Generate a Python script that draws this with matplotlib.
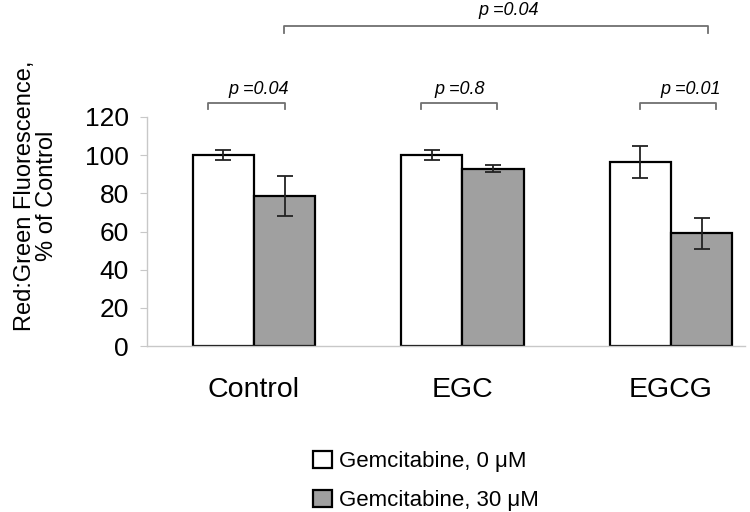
import matplotlib
matplotlib.use("Agg")
import matplotlib.pyplot as plt
import numpy as np

plt.rcParams['font.family'] = ['Liberation Sans', 'DejaVu Sans']

categories = ['Control', 'EGC', 'EGCG']
series_labels = ['Gemcitabine, 0 \u03bcM', 'Gemcitabine, 30 \u03bcM']
gem0 = [100, 100, 96.5]
gem0_err = [2.5, 2.5, 8.5]
gem30 = [78.5, 93, 59]
gem30_err = [10.5, 2, 8]
yticks = [0, 20, 40, 60, 80, 100, 120]

# significance brackets: (x_left, x_right, y_level, text, text_x)
brackets_small = [(-0.22, 0.15, 127.4, 'p =0.04', 0.025),
                  (0.80, 1.165, 127.4, 'p =0.8', 0.988),
                  (1.85, 2.215, 127.4, 'p =0.01', 2.094)]
bracket_top = (0.144, 2.177, 167.7, 'p =0.04', 1.22)

fig = plt.figure(figsize=(7.5, 5.12), dpi=100)
ax = fig.add_axes([147/750, 1-346/512, (745-147)/750, (346-117)/512])

x = np.arange(len(categories))
w = 0.293
ax.bar(x - w/2, gem0, w, color='white', edgecolor='black', linewidth=1.6,
       label=series_labels[0], zorder=2)
ax.bar(x + w/2, gem30, w, color='#a0a0a0', edgecolor='black', linewidth=1.6,
       label=series_labels[1], zorder=2)
ax.errorbar(x - w/2, gem0, yerr=gem0_err, fmt='none', ecolor='#222222',
            elinewidth=1.3, capsize=6, capthick=1.3, zorder=3)
ax.errorbar(x + w/2, gem30, yerr=gem30_err, fmt='none', ecolor='#222222',
            elinewidth=1.3, capsize=6, capthick=1.3, zorder=3)

ax.set_xlim(-0.513, 2.355)
ax.set_ylim(0, 120)
ax.set_yticks(yticks)
ax.set_xticks(x)
ax.set_xticklabels(categories, fontsize=20.5)
ax.tick_params(axis='x', length=0, pad=22)
ax.tick_params(axis='y', labelsize=19, length=5, width=0.8, color='#c8c8c8',
               direction='out', pad=8)
for s in ['top', 'right']:
    ax.spines[s].set_visible(False)
for s in ['left', 'bottom']:
    ax.spines[s].set_color('#c8c8c8')
    ax.spines[s].set_linewidth(1.0)

ax.set_ylabel('Red:Green Fluorescence,\n% of Control', fontsize=17, linespacing=1.05)
ax.yaxis.set_label_coords(-0.148, 0.655)

bcol = '#707070'
for (x1, x2, yb, txt, tx) in brackets_small:
    ax.plot([x1, x1, x2, x2], [yb - 3.2, yb, yb, yb - 3.2], color=bcol, lw=1.3,
            clip_on=False)
    ax.text(tx, yb + 7.0, txt, fontsize=13, style='italic', ha='center',
            va='center', clip_on=False)
x1, x2, yb, txt, tx = bracket_top
ax.plot([x1, x1, x2, x2], [yb - 3.7, yb, yb, yb - 3.7], color=bcol, lw=1.3,
        clip_on=False)
ax.text(tx, yb + 8.0, txt, fontsize=13, style='italic', ha='center',
        va='center', clip_on=False)

handles, labels = ax.get_legend_handles_labels()
fig.legend(handles, labels, loc='upper left', bbox_to_anchor=(313/750, 1-451/512),
           frameon=False, fontsize=16, handlelength=0.85, handleheight=0.8,
           handletextpad=0.3, labelspacing=0.8, borderpad=0, borderaxespad=0)

fig.savefig('out.png', dpi=100)
